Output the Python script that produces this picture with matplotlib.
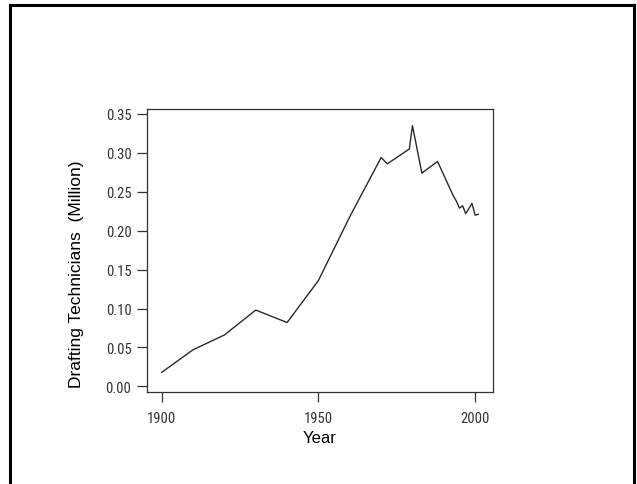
import matplotlib
matplotlib.use("Agg")
import matplotlib.pyplot as plt
from matplotlib.lines import Line2D

years = [1900, 1910, 1920, 1930, 1940, 1950, 1960, 1970, 1972, 1979, 1980,
         1983, 1988, 1993, 1994, 1995, 1996, 1997, 1999, 2000, 2001]
values = [0.018, 0.047, 0.066, 0.098, 0.082, 0.136, 0.218, 0.294, 0.286, 0.305, 0.335,
          0.274, 0.289, 0.245, 0.238, 0.229, 0.232, 0.222, 0.235, 0.220, 0.221]
xticks = [1900, 1950, 2000]
yticks = [0.00, 0.05, 0.10, 0.15, 0.20, 0.25, 0.30, 0.35]
ytick_labels = ["0.00", "0.05", "0.10", "0.15", "0.20", "0.25", "0.30", "0.35"]

narrow = ["Roboto Condensed", "Liberation Sans"]

W, H = 637, 485
fig = plt.figure(figsize=(W / 100, H / 100), dpi=100)
fig.patch.set_facecolor("white")

# outer frame (open at bottom)
fx = lambda px: px / W
fy = lambda py: 1 - py / H
for xs, ys in [([fx(9.8), fx(9.8)], [fy(6), -0.02]),
               ([fx(9.8), fx(633.5)], [fy(6), fy(6)]),
               ([fx(633.5), fx(633.5)], [fy(6), -0.02])]:
    fig.add_artist(Line2D(xs, ys, transform=fig.transFigure, color="black", lw=2.2))

ax = fig.add_axes([fx(146.7), fy(393), (493 - 146.7) / W, (393 - 110) / H])
ax.plot(years, values, color="#2a2a2a", lw=1.0)

ax.set_xlim(1895.2, 2005.7)
ax.set_ylim(-0.0073, 0.3564)
ax.set_xticks(xticks)
ax.set_xticklabels([str(x) for x in xticks], fontfamily=narrow, fontsize=10.5, color="#333333")
ax.set_yticks(yticks)
ax.set_yticklabels(ytick_labels, fontfamily=narrow, fontsize=10.5, color="#333333")
ax.tick_params(axis="both", direction="out", length=7, width=0.9, color="#333333")
ax.tick_params(axis="y", pad=4)
ax.tick_params(axis="x", pad=7)
for s in ax.spines.values():
    s.set_color("#333333")
    s.set_linewidth(0.9)

ax.set_ylabel("Drafting Technicians  (Million)", fontfamily="Liberation Sans", fontsize=12.5)
ax.yaxis.set_label_coords(-0.204, 0.419)
ax.yaxis.label.set_va("center")
ax.set_xlabel("Year", fontfamily="Liberation Sans", fontsize=12)
ax.xaxis.set_label_coords(0.5005, -0.1625)
ax.xaxis.label.set_va("center")

fig.savefig("out.png", dpi=100, facecolor="white")
